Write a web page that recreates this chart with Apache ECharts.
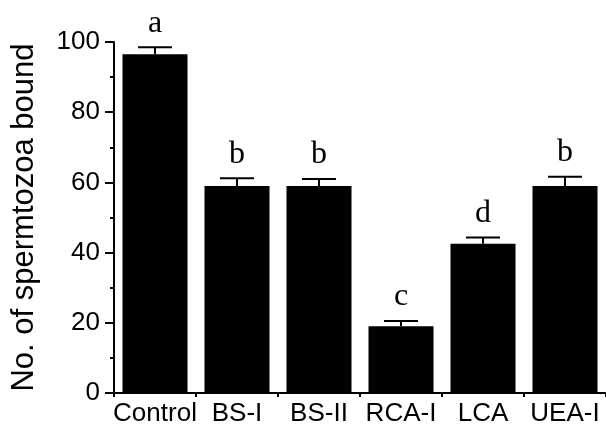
<!DOCTYPE html>
<html>
<head>
<meta charset="utf-8">
<script src="https://cdn.jsdelivr.net/npm/echarts@6/dist/echarts.min.js"></script>
<style>
  html, body { margin: 0; padding: 0; background: #fff; }
  #chart { width: 606px; height: 430px; }
</style>
</head>
<body>
<div id="chart"></div>
<script>
// data
var categories = ['Control', 'BS-I', 'BS-II', 'RCA-I', 'LCA', 'UEA-I'];
var means = [96.5, 59, 59, 19, 42.5, 59];
var errors = [2, 2.2, 2, 1.5, 1.8, 2.6];
var letters = ['a', 'b', 'b', 'c', 'd', 'b'];
var yTicks = [0, 20, 40, 60, 80, 100];

var myChart = echarts.init(document.getElementById('chart'));

var errData = means.map(function (m, i) {
  return [i, m, m + errors[i]];
});

var option = {
  animation: false,
  grid: { left: 114, right: 0, top: 42, bottom: 37 },
  xAxis: {
    type: 'category',
    data: categories,
    axisLine: { lineStyle: { color: '#000', width: 2 } },
    axisTick: { show: true, length: 4, lineStyle: { color: '#000', width: 2 } },
    axisLabel: {
      interval: 0,
      color: '#000', fontSize: 26, fontFamily: 'Liberation Sans', margin: 8
    }
  },
  yAxis: {
    type: 'value',
    min: 0, max: 100, interval: 20,
    name: 'No. of spermtozoa bound',
    nameLocation: 'middle',
    nameGap: 74,
    nameTextStyle: { color: '#000', fontSize: 31, fontFamily: 'Liberation Sans' },
    axisLine: { show: true, lineStyle: { color: '#000', width: 2 } },
    axisTick: { show: true, length: 9, lineStyle: { color: '#000', width: 2 } },
    minorTick: { show: true, splitNumber: 2, length: 4, lineStyle: { color: '#000', width: 2 } },
    splitLine: { show: false },
    axisLabel: {
      color: '#000', fontSize: 26, fontFamily: 'Liberation Sans', margin: 14,
      formatter: function (v) { return yTicks.indexOf(v) >= 0 ? String(v) : ''; }
    }
  },
  series: [
    {
      type: 'bar',
      data: means,
      barWidth: 65,
      itemStyle: { color: '#000' }
    },
    {
      type: 'custom',
      clip: false,
      data: errData,
      renderItem: function (params, api) {
        var base = api.coord([api.value(0), api.value(1)]);
        var top = api.coord([api.value(0), api.value(2)]);
        var half = 17;
        var style = { stroke: '#000', lineWidth: 2 };
        return {
          type: 'group',
          children: [
            { type: 'line', shape: { x1: base[0], y1: base[1], x2: top[0], y2: top[1] }, style: style },
            { type: 'line', shape: { x1: top[0] - half, y1: top[1], x2: top[0] + half, y2: top[1] }, style: style },
            {
              type: 'text',
              style: {
                text: letters[params.dataIndex],
                x: top[0], y: top[1] - 8,
                align: 'center', verticalAlign: 'bottom',
                fill: '#000', font: '32px "Liberation Serif"'
              }
            }
          ]
        };
      }
    }
  ]
};

myChart.setOption(option);
</script>
</body>
</html>
